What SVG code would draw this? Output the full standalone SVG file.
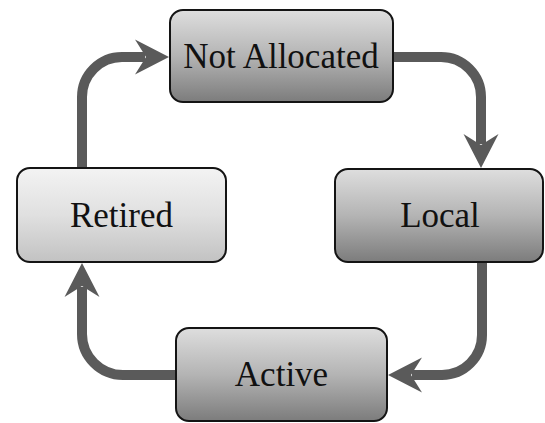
<svg xmlns="http://www.w3.org/2000/svg" width="545" height="423" viewBox="0 0 545 423">
  <style>
    .box { stroke: #141414; stroke-width: 2; }
    .dark { fill: url(#gDark); }
    .light { fill: url(#gLight); }
    .label { font-family: "Liberation Serif", "Times New Roman", serif; font-size: 35px; fill: #111; text-anchor: middle; }
    .conn { fill: none; stroke: #5a5a5a; stroke-width: 10; marker-end: url(#head); }
  </style>
  <defs>
    <linearGradient id="gDark" x1="0" y1="0" x2="0" y2="1">
      <stop offset="0" stop-color="#dedede"/>
      <stop offset="0.5" stop-color="#b4b4b4"/>
      <stop offset="1" stop-color="#7c7c7c"/>
    </linearGradient>
    <linearGradient id="gLight" x1="0" y1="0" x2="0" y2="1">
      <stop offset="0" stop-color="#f3f3f3"/>
      <stop offset="0.5" stop-color="#e0e0e0"/>
      <stop offset="1" stop-color="#c2c2c2"/>
    </linearGradient>
    <marker id="head" markerUnits="userSpaceOnUse" viewBox="0 -18 36 36" refX="10" refY="0" markerWidth="36" markerHeight="36" orient="auto">
      <path d="M0,-17.5 L34,0 L0,17.5 L11,0 Z" fill="#5a5a5a"/>
    </marker>
  </defs>

  <g id="connectors">
    <path class="conn" d="M393,57 H441 A40,40 0 0 1 481,97 V144"/>
    <path class="conn" d="M482,262 V335 A40,40 0 0 1 442,375 H412"/>
    <path class="conn" d="M176,375 H123 A41,41 0 0 1 82,334 V287"/>
    <path class="conn" d="M82,168 V97 A40,40 0 0 1 122,57 H145"/>
  </g>

  <g id="not-allocated">
    <rect class="box dark" x="170" y="10" width="223" height="92" rx="13"/>
    <text class="label" x="281" y="68">Not Allocated</text>
  </g>
  <g id="local">
    <rect class="box dark" x="335" y="169" width="208" height="93" rx="13"/>
    <text class="label" x="440" y="227">Local</text>
  </g>
  <g id="active">
    <rect class="box dark" x="176" y="328" width="211" height="93" rx="13"/>
    <text class="label" x="281.5" y="386">Active</text>
  </g>
  <g id="retired">
    <rect class="box light" x="17" y="168" width="209" height="94" rx="13"/>
    <text class="label" x="121.5" y="227">Retired</text>
  </g>
</svg>
